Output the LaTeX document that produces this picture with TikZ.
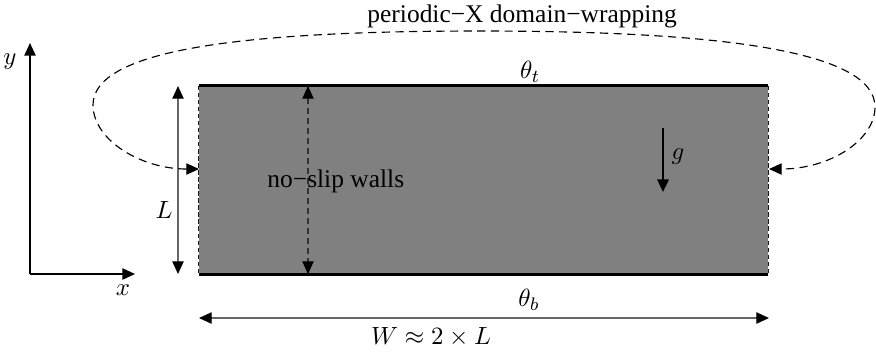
\documentclass[tikz,border=0pt]{standalone}
\usepackage[no-math]{fontspec}
\setmainfont{Liberation Serif}
\usetikzlibrary{arrows.meta}
\tikzset{
  tip/.style={-{Triangle[length=5.6pt,width=5pt,color=black]}},
  dbl/.style={{Triangle[length=5.6pt,width=5pt,color=black]}-{Triangle[length=5.6pt,width=5pt,color=black]}},
  dimline/.style={dbl, draw=black!60, line width=0.6pt},
  wrapline/.style={dbl, draw=black, line width=0.5pt, dash pattern=on 3.6pt off 2.4pt},
  sideline/.style={draw=black!90, line width=0.7pt, dash pattern=on 2pt off 1.1pt},
  wallline/.style={draw=black, line width=1.3pt},
  lbl/.style={inner sep=0pt, font=\fontsize{11.2}{13}\selectfont},
}
\begin{document}
\begin{tikzpicture}[x=0.44pt,y=-0.44pt]
\useasboundingbox (0,0) rectangle (876,356);
% domain box
\node[fill=black!50, draw=none, minimum width=569*0.44pt, minimum height=188*0.44pt, inner sep=0pt] (box) at (483.5,180) {};
\draw[sideline] (box.north west) -- (box.south west);
\draw[sideline] (box.north east) -- (box.south east);
\draw[wallline] (box.north west) -- (box.north east);
\draw[wallline] (box.south west) -- (box.south east);
% axes
\coordinate (o) at (30,274);
\coordinate (ytip) at (30,43);
\coordinate (xtip) at (135,274);
\draw[tip, line width=0.7pt] (o) -- (ytip);
\draw[tip, line width=0.7pt] (o) -- (xtip);
\node[lbl] (ylab) at (10,62) {$y$};
\node[lbl] (xlab) at (123,290) {$x$};
% L arrow
\coordinate (lt) at (178,86);
\coordinate (lb) at (178,274);
\draw[dimline] (lt) -- (lb);
\node[lbl] (Llab) at (164,210) {$L$};
% W arrow
\coordinate (wl) at (199,318);
\coordinate (wr) at (769,318);
\draw[dimline] (wl) -- (wr);
\node[lbl] (Wlab) at (431,337) {$W\approx 2\times L$};
% no-slip
\coordinate (nt) at (308,86);
\coordinate (nb) at (308,274);
\draw[dbl, draw=black!80, line width=0.5pt, dash pattern=on 2.6pt off 1.8pt] (nt) -- (nb);
\node[lbl, anchor=west] (ns) at (267,181) {no−slip walls};
% temperatures
\node[lbl] (tt) at (530,72) {$\theta_t$};
\node[lbl] (tb) at (529,300) {$\theta_b$};
% gravity
\coordinate (gt) at (663,128);
\coordinate (gb) at (663,192);
\draw[tip, line width=1.1pt] (gt) -- (gb);
\node[lbl] (glab) at (678,157) {$g$};
% periodic wrapping
\coordinate (pl) at (199,169);
\coordinate (pr) at (769,169);
\draw[wrapline] (pl) .. controls (141,169) and (93,140) .. (93,105)
  .. controls (93,50) and (240,31) .. (480,31)
  .. controls (715,31) and (875,50) .. (875,107)
  .. controls (875,140) and (830,169) .. (pr);
\node[lbl, anchor=west] (plab) at (367,16) {periodic−X domain−wrapping};
\end{tikzpicture}
\end{document}
